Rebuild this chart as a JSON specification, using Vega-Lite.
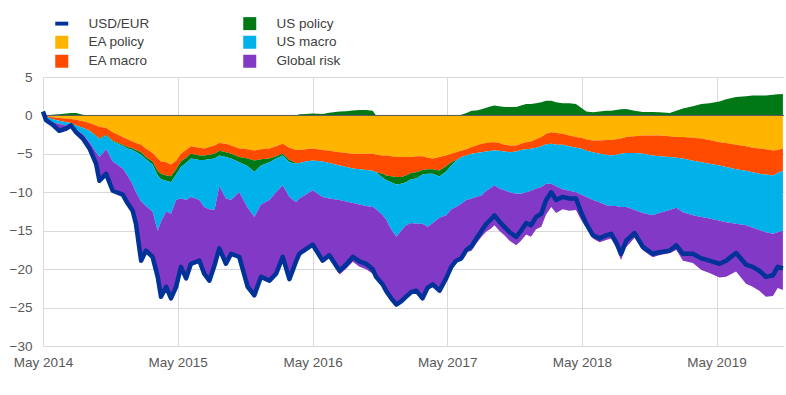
{
  "$schema": "https://vega.github.io/schema/vega-lite/v6.json",
  "width": 741,
  "height": 269,
  "autosize": {"type": "none"},
  "padding": {"left": 43, "top": 77, "right": 2, "bottom": 49},
  "background": "white",
  "config": {
    "view": {"stroke": null},
    "font": "Liberation Sans",
    "axis": {"labelFont": "Liberation Sans", "labelFontSize": 13.5, "labelColor": "#595959", "gridColor": "#d9d9d9", "gridWidth": 1, "domain": false, "ticks": false, "title": null},
    "legend": {"labelFont": "Liberation Sans", "labelFontSize": 13.5, "labelColor": "#404040"}
  },
  "data": {"values": [
    {"d":"2014-05-01","usd":0.5,"EP":0,"EM":0,"UP":-0.0001,"UPp":0,"UM":0,"GR":0.5},
    {"d":"2014-05-09","usd":-0.6,"EP":-0.05,"EM":-0.1,"UP":-0.0001,"UPp":0,"UM":-0.15,"GR":-0.3},
    {"d":"2014-05-27","usd":-1.2,"EP":-0.25,"EM":-0.25,"UP":-0.0001,"UPp":0.1,"UM":-0.4,"GR":-0.4},
    {"d":"2014-06-14","usd":-2.0,"EP":-0.35,"EM":-0.35,"UP":-0.0001,"UPp":0.15,"UM":-0.4,"GR":-1.05},
    {"d":"2014-07-03","usd":-1.7,"EP":-0.4,"EM":-0.5,"UP":-0.0001,"UPp":0.25,"UM":-0.4,"GR":-0.65},
    {"d":"2014-07-16","usd":-1.3,"EP":-0.45,"EM":-0.55,"UP":-0.0001,"UPp":0.3,"UM":-0.2,"GR":-0.4},
    {"d":"2014-07-30","usd":-2.2,"EP":-0.55,"EM":-0.75,"UP":-0.0001,"UPp":0.3,"UM":-0.6,"GR":-0.6},
    {"d":"2014-08-17","usd":-3.0,"EP":-0.75,"EM":-0.85,"UP":-0.0001,"UPp":0.1,"UM":-0.8,"GR":-0.7},
    {"d":"2014-09-04","usd":-4.3,"EP":-1.0,"EM":-1.0,"UP":-0.0001,"UPp":0,"UM":-1.5,"GR":-0.8},
    {"d":"2014-09-22","usd":-6.3,"EP":-1.3,"EM":-1.3,"UP":-0.1,"UPp":0,"UM":-2.1,"GR":-1.5},
    {"d":"2014-10-01","usd":-8.5,"EP":-1.5,"EM":-1.5,"UP":-0.1,"UPp":0,"UM":-2.3,"GR":-3.1},
    {"d":"2014-10-19","usd":-7.6,"EP":-1.6,"EM":-0.9,"UP":-0.1,"UPp":0,"UM":-1.8,"GR":-3.2},
    {"d":"2014-11-06","usd":-9.8,"EP":-2.2,"EM":-1.1,"UP":-0.1,"UPp":0,"UM":-2.6,"GR":-3.8},
    {"d":"2014-12-03","usd":-10.3,"EP":-2.8,"EM":-1.0,"UP":-0.15,"UPp":0,"UM":-2.95,"GR":-3.4},
    {"d":"2014-12-16","usd":-11.4,"EP":-3.1,"EM":-1.0,"UP":-0.2,"UPp":0,"UM":-3.5,"GR":-3.6},
    {"d":"2014-12-30","usd":-12.4,"EP":-3.4,"EM":-0.9,"UP":-0.2,"UPp":0,"UM":-4.5,"GR":-3.4},
    {"d":"2015-01-08","usd":-14.1,"EP":-3.6,"EM":-0.9,"UP":-0.25,"UPp":0,"UM":-5.25,"GR":-4.1},
    {"d":"2015-01-22","usd":-18.9,"EP":-3.8,"EM":-1.0,"UP":-0.3,"UPp":0,"UM":-6.1,"GR":-7.7},
    {"d":"2015-02-04","usd":-17.6,"EP":-4.3,"EM":-1.1,"UP":-0.3,"UPp":0,"UM":-6.1,"GR":-5.8},
    {"d":"2015-02-22","usd":-18.4,"EP":-4.9,"EM":-1.1,"UP":-0.4,"UPp":0,"UM":-6.1,"GR":-5.9},
    {"d":"2015-03-08","usd":-21.0,"EP":-5.6,"EM":-1.6,"UP":-0.6,"UPp":0,"UM":-7.2,"GR":-6.0},
    {"d":"2015-03-17","usd":-23.6,"EP":-6.0,"EM":-1.6,"UP":-0.7,"UPp":0,"UM":-5.5,"GR":-9.8},
    {"d":"2015-03-31","usd":-22.3,"EP":-6.1,"EM":-1.7,"UP":-0.7,"UPp":0,"UM":-4.0,"GR":-9.8},
    {"d":"2015-04-13","usd":-23.8,"EP":-6.4,"EM":-1.5,"UP":-0.8,"UPp":0,"UM":-4.1,"GR":-11.0},
    {"d":"2015-04-27","usd":-22.3,"EP":-5.9,"EM":-1.1,"UP":-0.7,"UPp":0,"UM":-3.3,"GR":-11.3},
    {"d":"2015-05-10","usd":-19.7,"EP":-5.0,"EM":-1.0,"UP":-0.7,"UPp":0,"UM":-4.1,"GR":-8.9},
    {"d":"2015-05-24","usd":-21.2,"EP":-4.5,"EM":-1.0,"UP":-0.7,"UPp":0,"UM":-4.8,"GR":-10.2},
    {"d":"2015-06-06","usd":-19.3,"EP":-4.0,"EM":-1.0,"UP":-0.6,"UPp":0,"UM":-5.0,"GR":-8.7},
    {"d":"2015-06-29","usd":-18.9,"EP":-4.2,"EM":-1.0,"UP":-0.6,"UPp":0,"UM":-5.2,"GR":-7.9},
    {"d":"2015-07-12","usd":-20.6,"EP":-4.3,"EM":-0.9,"UP":-0.6,"UPp":0,"UM":-6.1,"GR":-8.7},
    {"d":"2015-07-26","usd":-21.5,"EP":-4.1,"EM":-1.0,"UP":-0.6,"UPp":0,"UM":-6.5,"GR":-9.3},
    {"d":"2015-08-09","usd":-19.5,"EP":-3.9,"EM":-1.1,"UP":-0.6,"UPp":0,"UM":-6.7,"GR":-7.2},
    {"d":"2015-08-22","usd":-17.3,"EP":-3.6,"EM":-1.0,"UP":-0.6,"UPp":0,"UM":-4.0,"GR":-8.1},
    {"d":"2015-09-09","usd":-19.3,"EP":-3.7,"EM":-1.1,"UP":-0.6,"UPp":0,"UM":-5.4,"GR":-8.5},
    {"d":"2015-09-23","usd":-18.0,"EP":-3.9,"EM":-1.1,"UP":-0.6,"UPp":0,"UM":-5.4,"GR":-7.0},
    {"d":"2015-10-15","usd":-18.4,"EP":-4.3,"EM":-1.1,"UP":-0.7,"UPp":0,"UM":-3.9,"GR":-8.4},
    {"d":"2015-11-07","usd":-22.3,"EP":-4.4,"EM":-1.2,"UP":-1.0,"UPp":0,"UM":-5.4,"GR":-10.3},
    {"d":"2015-11-25","usd":-23.4,"EP":-4.55,"EM":-1.3,"UP":-1.5,"UPp":0,"UM":-5.85,"GR":-10.2},
    {"d":"2015-12-13","usd":-21.0,"EP":-4.4,"EM":-1.3,"UP":-0.8,"UPp":0,"UM":-5.1,"GR":-9.4},
    {"d":"2016-01-05","usd":-21.5,"EP":-4.3,"EM":-1.3,"UP":-0.5,"UPp":0,"UM":-4.9,"GR":-10.5},
    {"d":"2016-01-23","usd":-20.6,"EP":-4.0,"EM":-1.3,"UP":-0.3,"UPp":0,"UM":-4.4,"GR":-10.6},
    {"d":"2016-02-10","usd":-18.4,"EP":-3.7,"EM":-1.3,"UP":-0.2,"UPp":0,"UM":-3.9,"GR":-9.3},
    {"d":"2016-02-28","usd":-21.3,"EP":-4.2,"EM":-1.6,"UP":-0.3,"UPp":0,"UM":-4.5,"GR":-10.7},
    {"d":"2016-03-17","usd":-19.0,"EP":-4.5,"EM":-1.7,"UP":-0.1,"UPp":0,"UM":-5.0,"GR":-7.7},
    {"d":"2016-03-26","usd":-18.0,"EP":-4.5,"EM":-1.7,"UP":-0.0001,"UPp":0.15,"UM":-4.6,"GR":-7.35},
    {"d":"2016-04-13","usd":-17.4,"EP":-4.4,"EM":-1.6,"UP":-0.0001,"UPp":0.2,"UM":-4.3,"GR":-7.3},
    {"d":"2016-05-01","usd":-16.8,"EP":-4.3,"EM":-1.55,"UP":-0.0001,"UPp":0.25,"UM":-3.9,"GR":-7.3},
    {"d":"2016-05-28","usd":-18.9,"EP":-4.5,"EM":-1.5,"UP":-0.0001,"UPp":0.2,"UM":-4.6,"GR":-8.5},
    {"d":"2016-06-15","usd":-18.2,"EP":-4.6,"EM":-1.6,"UP":-0.0001,"UPp":0.35,"UM":-4.6,"GR":-7.75},
    {"d":"2016-07-13","usd":-20.2,"EP":-4.8,"EM":-1.7,"UP":-0.0001,"UPp":0.5,"UM":-4.5,"GR":-9.7},
    {"d":"2016-07-31","usd":-19.4,"EP":-4.9,"EM":-1.8,"UP":-0.0001,"UPp":0.55,"UM":-4.5,"GR":-8.75},
    {"d":"2016-08-18","usd":-18.4,"EP":-5.0,"EM":-1.9,"UP":-0.0001,"UPp":0.65,"UM":-4.5,"GR":-7.65},
    {"d":"2016-09-05","usd":-19.0,"EP":-5.0,"EM":-2.0,"UP":-0.0001,"UPp":0.7,"UM":-4.6,"GR":-8.1},
    {"d":"2016-09-23","usd":-19.3,"EP":-5.0,"EM":-2.1,"UP":-0.0001,"UPp":0.7,"UM":-4.7,"GR":-8.2},
    {"d":"2016-10-11","usd":-20.0,"EP":-5.0,"EM":-2.2,"UP":-0.0001,"UPp":0.6,"UM":-4.7,"GR":-8.7},
    {"d":"2016-10-20","usd":-21.0,"EP":-5.1,"EM":-2.3,"UP":-0.0001,"UPp":0,"UM":-4.8,"GR":-8.8},
    {"d":"2016-11-07","usd":-22.0,"EP":-5.2,"EM":-2.4,"UP":-0.5,"UPp":0,"UM":-4.9,"GR":-9.0},
    {"d":"2016-11-16","usd":-22.8,"EP":-5.2,"EM":-2.6,"UP":-0.6,"UPp":0,"UM":-5.1,"GR":-9.3},
    {"d":"2016-11-30","usd":-23.8,"EP":-5.3,"EM":-2.6,"UP":-0.8,"UPp":0,"UM":-6.1,"GR":-9.0},
    {"d":"2016-12-14","usd":-24.6,"EP":-5.4,"EM":-2.6,"UP":-1.0,"UPp":0,"UM":-6.8,"GR":-8.8},
    {"d":"2016-12-27","usd":-24.2,"EP":-5.4,"EM":-2.6,"UP":-0.9,"UPp":0,"UM":-6.1,"GR":-9.2},
    {"d":"2017-01-09","usd":-23.6,"EP":-5.4,"EM":-2.4,"UP":-0.9,"UPp":0,"UM":-5.6,"GR":-9.3},
    {"d":"2017-01-23","usd":-23.0,"EP":-5.4,"EM":-2.1,"UP":-0.8,"UPp":0,"UM":-5.7,"GR":-9.0},
    {"d":"2017-02-06","usd":-22.8,"EP":-5.3,"EM":-2.1,"UP":-0.8,"UPp":0,"UM":-5.9,"GR":-8.7},
    {"d":"2017-02-23","usd":-23.8,"EP":-5.3,"EM":-1.8,"UP":-0.6,"UPp":0,"UM":-6.4,"GR":-9.7},
    {"d":"2017-03-09","usd":-22.4,"EP":-5.5,"EM":-1.5,"UP":-0.6,"UPp":0,"UM":-6.9,"GR":-7.9},
    {"d":"2017-03-23","usd":-22.0,"EP":-5.6,"EM":-1.4,"UP":-0.6,"UPp":0,"UM":-6.4,"GR":-8.0},
    {"d":"2017-04-10","usd":-22.8,"EP":-5.4,"EM":-1.75,"UP":-0.8,"UPp":0,"UM":-5.35,"GR":-9.5},
    {"d":"2017-04-28","usd":-21.2,"EP":-5.2,"EM":-1.4,"UP":-0.7,"UPp":0,"UM":-5.7,"GR":-8.2},
    {"d":"2017-05-12","usd":-19.7,"EP":-5.0,"EM":-1.1,"UP":-0.4,"UPp":0,"UM":-5.7,"GR":-7.5},
    {"d":"2017-05-25","usd":-18.9,"EP":-4.8,"EM":-1.0,"UP":-0.1,"UPp":0,"UM":-6.0,"GR":-7.0},
    {"d":"2017-06-08","usd":-18.6,"EP":-4.6,"EM":-0.8,"UP":-0.0001,"UPp":0.1,"UM":-6.1,"GR":-7.2},
    {"d":"2017-06-22","usd":-17.5,"EP":-4.4,"EM":-0.8,"UP":-0.0001,"UPp":0.3,"UM":-5.8,"GR":-6.8},
    {"d":"2017-07-06","usd":-17.0,"EP":-4.1,"EM":-0.9,"UP":-0.0001,"UPp":0.6,"UM":-5.8,"GR":-6.8},
    {"d":"2017-07-19","usd":-16.0,"EP":-3.9,"EM":-1.0,"UP":-0.0001,"UPp":0.65,"UM":-5.7,"GR":-6.05},
    {"d":"2017-08-02","usd":-15.0,"EP":-3.7,"EM":-1.1,"UP":-0.0001,"UPp":0.8,"UM":-5.6,"GR":-5.4},
    {"d":"2017-08-15","usd":-14.1,"EP":-3.6,"EM":-1.1,"UP":-0.0001,"UPp":1.0,"UM":-5.1,"GR":-5.3},
    {"d":"2017-08-28","usd":-13.5,"EP":-3.5,"EM":-1.1,"UP":-0.0001,"UPp":1.2,"UM":-4.8,"GR":-5.3},
    {"d":"2017-09-06","usd":-13.0,"EP":-3.5,"EM":-1.05,"UP":-0.0001,"UPp":1.3,"UM":-4.55,"GR":-5.2},
    {"d":"2017-09-19","usd":-13.8,"EP":-3.6,"EM":-1.0,"UP":-0.0001,"UPp":1.2,"UM":-4.9,"GR":-5.5},
    {"d":"2017-10-03","usd":-14.5,"EP":-3.8,"EM":-0.9,"UP":-0.0001,"UPp":1.1,"UM":-5.05,"GR":-5.85},
    {"d":"2017-10-17","usd":-15.2,"EP":-3.9,"EM":-0.9,"UP":-0.0001,"UPp":1.1,"UM":-5.2,"GR":-6.3},
    {"d":"2017-11-04","usd":-15.8,"EP":-3.9,"EM":-0.8,"UP":-0.0001,"UPp":1.1,"UM":-5.5,"GR":-6.7},
    {"d":"2017-11-17","usd":-15.0,"EP":-3.7,"EM":-0.8,"UP":-0.0001,"UPp":1.3,"UM":-5.7,"GR":-6.1},
    {"d":"2017-12-01","usd":-14.0,"EP":-3.5,"EM":-0.9,"UP":-0.0001,"UPp":1.5,"UM":-5.6,"GR":-5.5},
    {"d":"2017-12-14","usd":-14.3,"EP":-3.4,"EM":-0.95,"UP":-0.0001,"UPp":1.5,"UM":-5.45,"GR":-6.0},
    {"d":"2017-12-28","usd":-13.2,"EP":-3.1,"EM":-1.1,"UP":-0.0001,"UPp":1.6,"UM":-5.3,"GR":-5.3},
    {"d":"2018-01-11","usd":-12.8,"EP":-2.8,"EM":-1.2,"UP":-0.0001,"UPp":1.7,"UM":-5.3,"GR":-5.2},
    {"d":"2018-01-24","usd":-11.0,"EP":-2.4,"EM":-1.35,"UP":-0.0001,"UPp":1.9,"UM":-5.15,"GR":-4.0},
    {"d":"2018-02-07","usd":-10.0,"EP":-2.2,"EM":-1.5,"UP":-0.0001,"UPp":1.9,"UM":-5.2,"GR":-3.0},
    {"d":"2018-02-20","usd":-11.0,"EP":-2.3,"EM":-1.5,"UP":-0.0001,"UPp":1.7,"UM":-5.4,"GR":-3.5},
    {"d":"2018-03-10","usd":-10.6,"EP":-2.4,"EM":-1.4,"UP":-0.0001,"UPp":1.6,"UM":-5.8,"GR":-2.6},
    {"d":"2018-03-28","usd":-10.8,"EP":-2.6,"EM":-1.4,"UP":-0.0001,"UPp":1.6,"UM":-5.8,"GR":-2.6},
    {"d":"2018-04-15","usd":-10.8,"EP":-2.8,"EM":-1.4,"UP":-0.0001,"UPp":1.5,"UM":-5.8,"GR":-2.3},
    {"d":"2018-04-29","usd":-12.6,"EP":-2.9,"EM":-1.4,"UP":-0.0001,"UPp":1.0,"UM":-6.0,"GR":-3.3},
    {"d":"2018-05-13","usd":-14.1,"EP":-3.1,"EM":-1.5,"UP":-0.0001,"UPp":0.5,"UM":-6.0,"GR":-4.0},
    {"d":"2018-05-31","usd":-15.6,"EP":-3.25,"EM":-1.55,"UP":-0.0001,"UPp":0.4,"UM":-6.2,"GR":-5.0},
    {"d":"2018-06-18","usd":-16.0,"EP":-3.25,"EM":-1.75,"UP":-0.0001,"UPp":0.5,"UM":-6.3,"GR":-5.2},
    {"d":"2018-07-06","usd":-15.6,"EP":-3.2,"EM":-1.9,"UP":-0.0001,"UPp":0.6,"UM":-6.6,"GR":-4.5},
    {"d":"2018-07-19","usd":-15.4,"EP":-3.2,"EM":-2.0,"UP":-0.0001,"UPp":0.6,"UM":-6.6,"GR":-4.2},
    {"d":"2018-08-02","usd":-16.5,"EP":-3.1,"EM":-2.0,"UP":-0.0001,"UPp":0.7,"UM":-6.7,"GR":-5.4},
    {"d":"2018-08-15","usd":-18.0,"EP":-3.0,"EM":-2.0,"UP":-0.0001,"UPp":0.8,"UM":-6.9,"GR":-6.9},
    {"d":"2018-08-29","usd":-16.3,"EP":-2.8,"EM":-2.1,"UP":-0.0001,"UPp":0.85,"UM":-7.0,"GR":-5.25},
    {"d":"2018-09-21","usd":-15.3,"EP":-2.7,"EM":-2.2,"UP":-0.0001,"UPp":0.6,"UM":-7.4,"GR":-3.6},
    {"d":"2018-10-13","usd":-17.1,"EP":-2.6,"EM":-2.4,"UP":-0.0001,"UPp":0.45,"UM":-7.7,"GR":-4.85},
    {"d":"2018-11-09","usd":-18.0,"EP":-2.6,"EM":-2.6,"UP":-0.0001,"UPp":0.45,"UM":-7.8,"GR":-5.45},
    {"d":"2018-11-27","usd":-17.8,"EP":-2.6,"EM":-2.7,"UP":-0.0001,"UPp":0.4,"UM":-7.4,"GR":-5.5},
    {"d":"2018-12-25","usd":-17.6,"EP":-2.7,"EM":-2.7,"UP":-0.0001,"UPp":0.3,"UM":-6.9,"GR":-5.6},
    {"d":"2019-01-12","usd":-16.9,"EP":-2.8,"EM":-2.7,"UP":-0.0001,"UPp":0.6,"UM":-6.5,"GR":-5.5},
    {"d":"2019-01-30","usd":-18.0,"EP":-2.8,"EM":-2.8,"UP":-0.0001,"UPp":0.9,"UM":-7.0,"GR":-6.3},
    {"d":"2019-02-26","usd":-18.0,"EP":-2.9,"EM":-3.0,"UP":-0.0001,"UPp":1.2,"UM":-7.1,"GR":-6.2},
    {"d":"2019-03-21","usd":-18.6,"EP":-3.0,"EM":-3.1,"UP":-0.0001,"UPp":1.5,"UM":-7.1,"GR":-6.9},
    {"d":"2019-04-12","usd":-18.9,"EP":-3.2,"EM":-3.1,"UP":-0.0001,"UPp":1.6,"UM":-7.1,"GR":-7.1},
    {"d":"2019-05-09","usd":-19.3,"EP":-3.5,"EM":-3.0,"UP":-0.0001,"UPp":1.8,"UM":-7.2,"GR":-7.4},
    {"d":"2019-05-27","usd":-18.9,"EP":-3.6,"EM":-3.1,"UP":-0.0001,"UPp":2.1,"UM":-7.2,"GR":-7.1},
    {"d":"2019-06-23","usd":-17.9,"EP":-3.8,"EM":-3.2,"UP":-0.0001,"UPp":2.4,"UM":-7.1,"GR":-6.2},
    {"d":"2019-07-20","usd":-19.4,"EP":-4.0,"EM":-3.2,"UP":-0.0001,"UPp":2.5,"UM":-7.1,"GR":-7.6},
    {"d":"2019-08-07","usd":-19.7,"EP":-4.2,"EM":-3.2,"UP":-0.0001,"UPp":2.6,"UM":-7.2,"GR":-7.7},
    {"d":"2019-08-25","usd":-20.2,"EP":-4.3,"EM":-3.3,"UP":-0.0001,"UPp":2.6,"UM":-7.3,"GR":-7.9},
    {"d":"2019-09-12","usd":-21.0,"EP":-4.4,"EM":-3.3,"UP":-0.0001,"UPp":2.6,"UM":-7.5,"GR":-8.4},
    {"d":"2019-10-01","usd":-20.8,"EP":-4.55,"EM":-3.25,"UP":-0.0001,"UPp":2.7,"UM":-7.6,"GR":-8.1},
    {"d":"2019-10-14","usd":-19.7,"EP":-4.5,"EM":-3.0,"UP":-0.0001,"UPp":2.75,"UM":-7.7,"GR":-7.25},
    {"d":"2019-10-28","usd":-19.9,"EP":-4.3,"EM":-2.9,"UP":-0.0001,"UPp":2.8,"UM":-7.8,"GR":-7.7}
  ]},
  "layer": [
    {
      "transform": [
        {"fold": ["EP", "EM", "UP", "UPp", "UM", "GR"], "as": ["k", "value"]},
        {"lookup": "k", "from": {"data": {"values": [
          {"k": "EP", "series": "EA policy", "o": 1},
          {"k": "EM", "series": "EA macro", "o": 2},
          {"k": "UP", "series": "US policy", "o": 3},
          {"k": "UM", "series": "US macro", "o": 4},
          {"k": "GR", "series": "Global risk", "o": 5},
          {"k": "UPp", "series": "US policy +", "o": 6}
        ]}, "key": "k", "fields": ["series", "o"]}}
      ],
      "mark": {"type": "area", "interpolate": "linear"},
      "encoding": {
        "x": {"field": "d", "type": "temporal", "scale": {"type": "utc", "domain": [{"year": 2014, "month": 5, "date": 1, "utc": true}, {"year": 2019, "month": 10, "date": 31, "utc": true}]},
          "axis": {"values": [
            {"year": 2014, "month": 5, "date": 1, "utc": true},
            {"year": 2015, "month": 5, "date": 1, "utc": true},
            {"year": 2016, "month": 5, "date": 1, "utc": true},
            {"year": 2017, "month": 5, "date": 1, "utc": true},
            {"year": 2018, "month": 5, "date": 1, "utc": true},
            {"year": 2019, "month": 5, "date": 1, "utc": true}
          ], "labelExpr": "utcFormat(datum.value, '%b %Y')", "grid": true, "labelPadding": 9, "labelFlush": false, "labelOverlap": false}},
        "y": {"field": "value", "type": "quantitative", "stack": "zero", "scale": {"domain": [-30, 5], "nice": false, "zero": false},
          "axis": {"values": [-30, -25, -20, -15, -10, -5, 0, 5], "grid": true, "labelPadding": 11, "labelOverlap": false}},
        "color": {"field": "series", "type": "nominal",
          "scale": {"domain": ["USD/EUR", "EA policy", "EA macro", "US policy", "US macro", "Global risk", "US policy +"],
                    "range": ["#003299", "#ffb400", "#ff4b00", "#007816", "#00b1ea", "#8139c6", "#007816"]},
          "legend": {"values": ["USD/EUR", "EA policy", "EA macro", "US policy", "US macro", "Global risk"],
            "title": null, "orient": "none", "legendX": 12, "legendY": -60.5, "columns": 2, "columnPadding": 93, "rowPadding": 4,
            "symbolType": "square", "symbolSize": 169, "symbolStrokeWidth": 0, "labelOffset": 20, "padding": 0,
            "encode": {"symbols": {"update": {"shape": {"signal": "datum.value === 'USD/EUR' ? 'M-1,-0.3L1,-0.3L1,0.3L-1,0.3Z' : 'square'"}}}}}},
        "order": {"field": "o", "type": "quantitative"}
      }
    },
    {
      "data": {"values": [{"z": 0}]},
      "mark": {"type": "rule", "color": "#595959", "strokeWidth": 1},
      "encoding": {"y": {"field": "z", "type": "quantitative", "scale": {"domain": [-30, 5], "nice": false, "zero": false},
        "axis": {"values": [-30, -25, -20, -15, -10, -5, 0, 5], "grid": true, "labelPadding": 11, "labelOverlap": false}}}
    },
    {
      "mark": {"type": "line", "color": "#003299", "strokeWidth": 4.5, "strokeJoin": "round"},
      "encoding": {
        "x": {"field": "d", "type": "temporal", "scale": {"type": "utc", "domain": [{"year": 2014, "month": 5, "date": 1, "utc": true}, {"year": 2019, "month": 10, "date": 31, "utc": true}]},
          "axis": {"values": [
            {"year": 2014, "month": 5, "date": 1, "utc": true},
            {"year": 2015, "month": 5, "date": 1, "utc": true},
            {"year": 2016, "month": 5, "date": 1, "utc": true},
            {"year": 2017, "month": 5, "date": 1, "utc": true},
            {"year": 2018, "month": 5, "date": 1, "utc": true},
            {"year": 2019, "month": 5, "date": 1, "utc": true}
          ], "labelExpr": "utcFormat(datum.value, '%b %Y')", "grid": true, "labelPadding": 9, "labelFlush": false, "labelOverlap": false}},
        "y": {"field": "usd", "type": "quantitative", "scale": {"domain": [-30, 5], "nice": false, "zero": false},
          "axis": {"values": [-30, -25, -20, -15, -10, -5, 0, 5], "grid": true, "labelPadding": 11, "labelOverlap": false}}
      }
    }
  ]
}
